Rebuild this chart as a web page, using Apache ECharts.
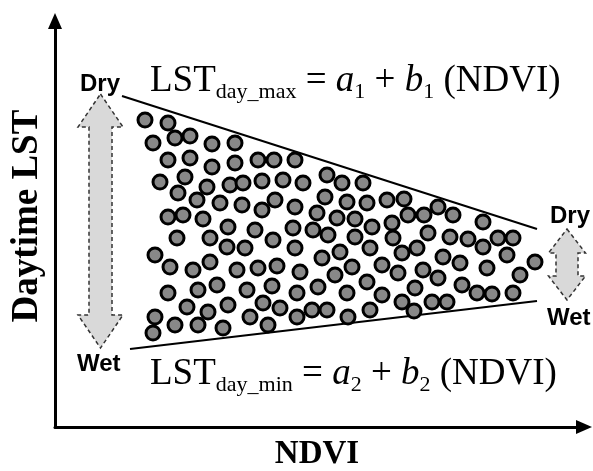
<!DOCTYPE html>
<html>
<head>
<meta charset="utf-8">
<script src="https://cdn.jsdelivr.net/npm/echarts@6/dist/echarts.min.js"></script>
<style>html,body{margin:0;padding:0;background:#fff}#c{width:593px;height:471px}</style>
</head>
<body>
<div id="c"></div>
<script>
// Conceptual NDVI (x) vs daytime LST (y) scatter, arbitrary units
var pixelPoints = [
[90,307],[113,304],[98,284],[120,289],[135,291],[157,283],[180,284],[113,267],[135,269],[157,260],
[180,264],[203,267],[219,267],[105,245],[130,250],[152,240],[175,242],[188,244],[207,246],[123,234],
[142,227],[165,224],[187,222],[207,217],[113,210],[128,212],[148,208],[240,267],[228,247],[248,244],
[272,252],[287,244],[308,244],[220,227],[240,220],[270,230],[292,225],[312,224],[332,227],[349,228],
[262,214],[282,209],[300,208],[353,212],[369,212],[383,220],[398,212],[428,205],[173,200],[200,197],
[122,189],[155,189],[172,180],[190,179],[100,172],[115,160],[138,157],[155,165],[182,157],[203,159],
[222,161],[113,134],[143,137],[162,142],[192,137],[217,141],[132,120],[153,115],[173,122],[208,124],
[100,110],[120,102],[143,102],[168,99],[195,110],[213,102],[98,94],[238,199],[258,197],[273,192],
[317,200],[337,204],[218,187],[300,190],[338,189],[240,179],[285,175],[315,179],[347,174],[267,169],
[245,155],[297,160],[327,162],[343,154],[280,152],[263,140],[312,145],[242,134],[292,134],[327,132],
[347,125],[359,116],[225,119],[242,110],[257,117],[272,117],[293,110],[315,117],[373,194],[395,190],
[413,188],[428,180],[443,189],[458,189],[452,172],[362,179],[388,170],[405,164],[432,159],[480,165],
[368,157],[383,149],[465,152],[360,139],[407,142],[422,134],[437,133],[458,134],[377,125],[392,125]
];
var upperEdge = [[67,331],[482,198]];
var lowerEdge = [[75,78],[482,126]];
// arrows: [x centre, top tip, bottom tip]
var arrows = [[45.5,333,79],[512,198,127]];

var arrowShapes = [{head:33, hw:22.5, sw:11.5},{head:24, hw:18.5, sw:11}];

var chart = echarts.init(document.getElementById('c'), null, {renderer:'canvas'});
var serif = 'Liberation Serif, Times New Roman, serif';
var sans = 'Liberation Sans, Arial, sans-serif';

function eqText(sub, idx) {
  return '{m|LST}{s|' + sub + '}{m| = }{i|a}{d|' + idx + '}{m| + }{i|b}{d|' + idx + '}{m| (NDVI)}';
}
var eqRich = {
  m: {fontFamily: serif, fontSize: 37, lineHeight: 44, color: '#000'},
  i: {fontFamily: serif, fontSize: 37, lineHeight: 44, fontStyle: 'italic', color: '#000'},
  s: {fontFamily: serif, fontSize: 22, lineHeight: 21, verticalAlign: 'bottom', color: '#000'},
  d: {fontFamily: serif, fontSize: 22, lineHeight: 21, verticalAlign: 'bottom', color: '#000'}
};

chart.setOption({
  animation: false,
  backgroundColor: '#fff',
  grid: {left: 55, right: 9, top: 21, bottom: 44},
  xAxis: {
    type: 'value', min: 0, max: 529,
    axisLine: {show: true, lineStyle: {color: '#000', width: 3}, symbol: ['none', 'triangle'], symbolSize: [14, 16]},
    axisTick: {show: false}, axisLabel: {show: false}, splitLine: {show: false}
  },
  yAxis: {
    type: 'value', min: 0, max: 406,
    axisLine: {show: true, lineStyle: {color: '#000', width: 3}, symbol: ['none', 'triangle'], symbolSize: [14, 16]},
    axisTick: {show: false}, axisLabel: {show: false}, splitLine: {show: false}
  },
  graphic: [
    {type: 'text', x: 150, y: 59.5, style: {text: eqText('day_max', 1), rich: eqRich, verticalAlign: 'top', align: 'left'}},
    {type: 'text', x: 150, y: 352.5, style: {text: eqText('day_min', 2), rich: eqRich, verticalAlign: 'top', align: 'left'}},
    {type: 'text', x: 80, y: 84, style: {text: 'Dry', font: 'bold 24px ' + sans, fill: '#000', verticalAlign: 'middle', align: 'left'}},
    {type: 'text', x: 77, y: 364, style: {text: 'Wet', font: 'bold 24px ' + sans, fill: '#000', verticalAlign: 'middle', align: 'left'}},
    {type: 'text', x: 550, y: 216, style: {text: 'Dry', font: 'bold 24px ' + sans, fill: '#000', verticalAlign: 'middle', align: 'left'}},
    {type: 'text', x: 547, y: 318, style: {text: 'Wet', font: 'bold 24px ' + sans, fill: '#000', verticalAlign: 'middle', align: 'left'}},
    {type: 'text', x: 27, y: 216, rotation: Math.PI / 2, style: {text: 'Daytime LST', font: 'bold 37px ' + serif, fill: '#000', verticalAlign: 'middle', align: 'center'}},
    {type: 'text', x: 317, y: 454, style: {text: 'NDVI', font: 'bold 33px ' + serif, fill: '#000', verticalAlign: 'middle', align: 'center'}}
  ],
  series: [
    {
      type: 'custom',
      data: arrows,
      z: 1,
      renderItem: function (params, api) {
        var s = arrowShapes[params.dataIndex];
        var t = api.coord([api.value(0), api.value(1)]);
        var b = api.coord([api.value(0), api.value(2)]);
        var x = t[0];
        var pts = [
          [x, t[1]], [x + s.hw, t[1] + s.head], [x + s.sw, t[1] + s.head],
          [x + s.sw, b[1] - s.head], [x + s.hw, b[1] - s.head], [x, b[1]],
          [x - s.hw, b[1] - s.head], [x - s.sw, b[1] - s.head],
          [x - s.sw, t[1] + s.head], [x - s.hw, t[1] + s.head]
        ];
        return {
          type: 'polygon',
          shape: {points: pts},
          style: {fill: '#d9d9d9', stroke: '#333', lineWidth: 1.5, lineDash: [4, 3]}
        };
      }
    },
    {
      type: 'line', data: upperEdge, symbol: 'none', z: 2,
      lineStyle: {color: '#000', width: 2}
    },
    {
      type: 'line', data: lowerEdge, symbol: 'none', z: 2,
      lineStyle: {color: '#000', width: 2}
    },
    {
      type: 'scatter', data: pixelPoints, symbolSize: 14, z: 3,
      itemStyle: {color: '#888', borderColor: '#000', borderWidth: 3, opacity: 1}
    }
  ]
});
</script>
</body>
</html>
